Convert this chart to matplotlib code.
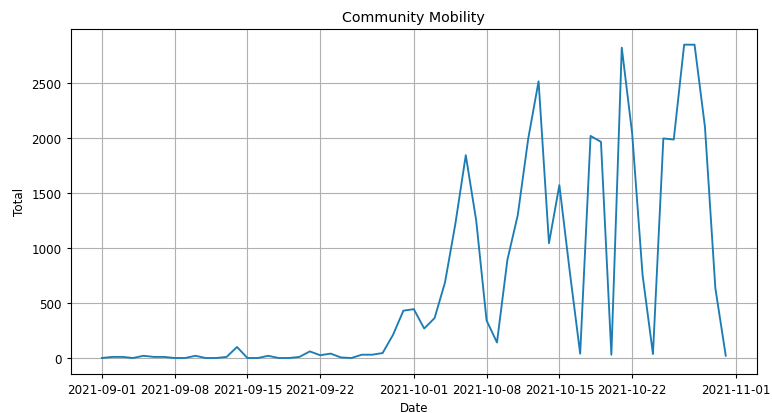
import matplotlib
matplotlib.use("Agg")
import matplotlib.pyplot as plt
import matplotlib.dates as mdates
import pandas as pd

# Daily totals, 2021-09-01 .. 2021-10-31
start_date = "2021-09-01"
totals = [
    0, 10, 10, 0, 20, 10, 10, 0, 0, 20,
    0, 0, 10, 100, 0, 0, 20, 0, 0, 10,
    60, 25, 40, 5, 0, 30, 30, 45, 210, 430,
    444, 268, 363, 686, 1220, 1843, 1250, 341, 141, 891,
    1299, 1990, 2514, 1043, 1571, 785, 39, 2018, 1964, 30,
    2820, 2040, 755, 36, 1995, 1985, 2847, 2847, 2100, 635,
    21,
]
tick_labels = ["2021-09-01", "2021-09-08", "2021-09-15", "2021-09-22",
               "2021-10-01", "2021-10-08", "2021-10-15", "2021-10-22",
               "2021-11-01"]
y_ticks = [0, 500, 1000, 1500, 2000, 2500]

dates = pd.date_range(start_date, periods=len(totals), freq="D")

fs = 8.6
fig = plt.figure(figsize=(7.72, 4.14), dpi=100)
ax = fig.add_axes([0.0915, 0.095, 0.889, 0.8325])
ax.plot(dates, totals, color="#1c7db5", linewidth=1.35)

ax.set_title("Community Mobility", fontsize=10.3)
ax.set_xlabel("Date", fontsize=fs)
ax.set_ylabel("Total", fontsize=fs)

ax.set_xticks(pd.to_datetime(tick_labels))
ax.xaxis.set_major_formatter(mdates.DateFormatter("%Y-%m-%d"))
ax.set_yticks(y_ticks)
ax.tick_params(labelsize=fs, length=3)
ax.grid(True, color="#b0b0b0", linewidth=0.8)
for s in ax.spines.values():
    s.set_linewidth(0.8)

fig.savefig("out.png", dpi=100)
